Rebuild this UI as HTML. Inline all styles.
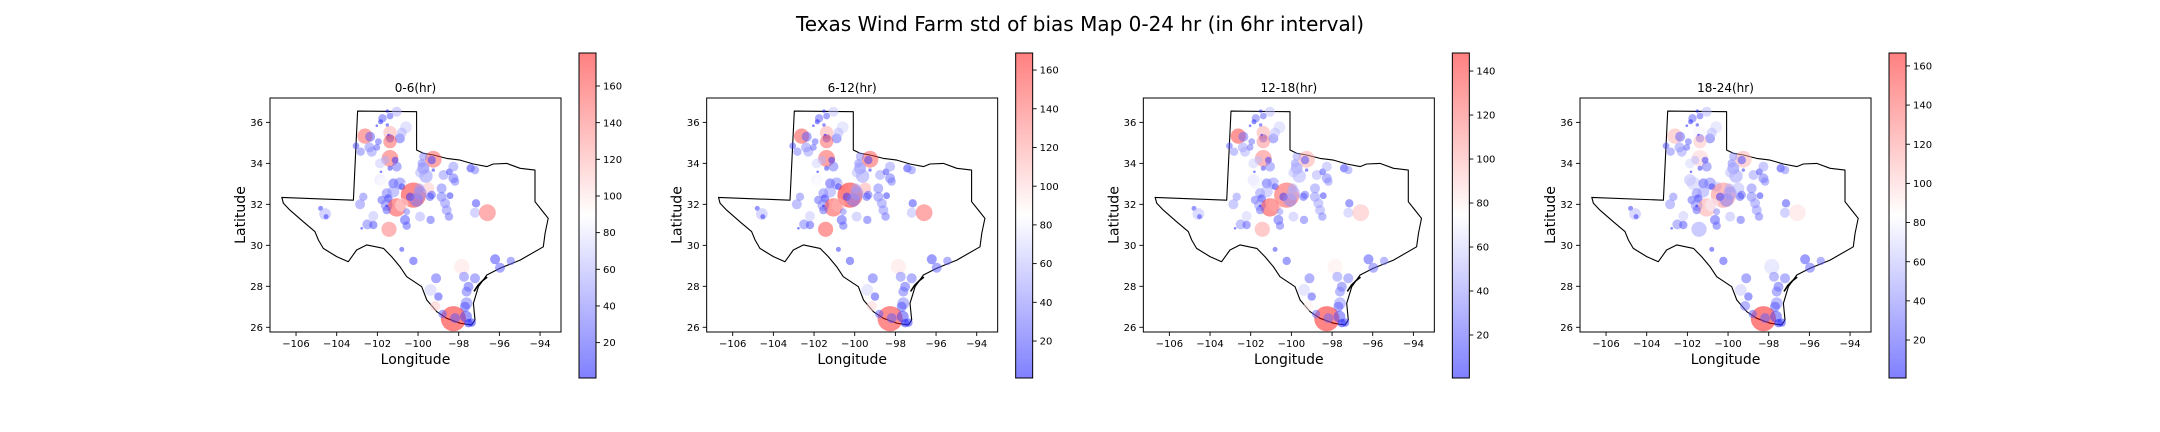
<!DOCTYPE html>
<html><head><meta charset="utf-8"><style>
html,body{margin:0;padding:0;background:#fff}
svg{display:block}
text{font-family:"DejaVu Sans","Liberation Sans",sans-serif;fill:#000}
</style></head><body>
<svg id="fig" width="2160" height="432" viewBox="0 0 2160 432">
<text x="1080" y="31" font-size="20" text-anchor="middle">Texas Wind Farm std of bias Map 0-24 hr (in 6hr interval)</text>
</svg>
<script>
// ---- data ----
const panelTitles = ["0-6(hr)","6-12(hr)","12-18(hr)","18-24(hr)"];
const siteLon = [-101.51,-101.05,-101.38,-101.75,-101.84,-102.03,-101.51,-100.59,-102.61,-102.36,-101.38,-101.38,-101.46,-100.89,-100.8,-101.38,-101.95,-103.05,-102.82,-102.39,-102.28,-102.03,-101.38,-101.13,-101.62,-101.87,-101.05,-101.38,-101.82,-99.25,-99.33,-99.74,-99.82,-99.74,-99.61,-99.25,-98.75,-98.46,-98.26,-98.26,-98.18,-97.41,-97.2,-101.87,-101.70,-101.21,-100.89,-100.56,-100.80,-100.23,-100.39,-100.07,-99.49,-99.33,-99.41,-98.84,-98.84,-98.43,-101.54,-101.46,-101.79,-101.54,-101.05,-100.80,-101.54,-101.54,-102.69,-102.85,-102.2,-100.56,-100.64,-100.56,-99.90,-99.38,-98.67,-98.59,-98.48,-97.15,-97.2,-96.59,-104.79,-104.57,-104.52,-102.49,-102.2,-101.43,-102.77,-100.8,-100.23,-97.85,-99.11,-99.38,-99.0,-99.16,-97.74,-97.2,-97.52,-97.61,-97.61,-97.69,-98.26,-98.18,-98.79,-97.64,-97.52,-97.36,-96.21,-95.97,-95.44,-99.93,-99.90,-101.21,-99.74,-99.90];
const siteLat = [36.55,36.52,36.31,36.2,36.03,35.84,35.87,35.76,35.33,35.30,35.5,35.22,35.38,35.22,35.5,35.06,35.06,34.85,34.57,34.78,34.57,34.78,34.24,34.16,34.16,34.0,33.84,33.76,33.59,34.2,34.16,34.33,34.0,33.76,33.38,33.67,33.43,33.59,33.84,33.27,33.11,33.76,33.67,33.19,33.02,33.02,33.02,32.86,32.86,32.45,32.37,32.21,32.78,32.46,32.37,32.78,32.37,32.42,32.54,32.29,32.21,31.97,31.85,31.97,31.72,31.93,32.37,32.0,31.43,31.64,31.24,30.96,31.4,31.24,32.05,31.72,31.4,32.05,31.59,31.59,31.8,31.53,31.4,31.02,30.99,30.78,30.83,29.8,29.24,28.96,28.39,27.82,27.5,27.04,28.47,28.39,27.98,27.74,27.17,27.0,26.42,26.45,26.65,26.52,26.2,26.23,29.32,28.91,29.24,32.78,32.54,32.62,33.76,33.55];
const siteSize = [4,12,8,10,6,3,4,14,18,12,16,10,3,12,12,16,8,8,10,12,12,8,20,8,10,12,12,6,3,20,10,10,10,14,16,4,12,8,12,12,10,10,10,14,16,12,14,12,8,30,10,16,14,10,10,12,12,8,12,10,10,14,22,16,10,3,10,12,12,8,12,10,12,10,12,12,10,10,12,20,6,14,6,12,10,18,3,6,10,18,12,14,10,12,12,12,12,12,14,12,30,12,10,14,10,10,12,12,10,12,16,14,14,12];
const values1 = [10,60,25,30,10,5,10,70,150,30,120,20,5,30,60,150,30,25,40,45,50,30,150,15,60,70,35,15,5,150,20,45,40,50,50,10,50,20,50,35,40,15,40,80,90,25,40,90,20,170,15,40,110,30,25,40,40,15,40,15,30,40,160,100,30,5,40,45,65,40,25,30,60,30,45,45,35,20,60,145,15,60,15,40,25,140,5,15,20,100,30,70,20,110,40,35,30,35,40,25,175,30,30,20,10,15,20,30,35,55,50,50,55,60];
const values2 = [10,65,25,30,10,5,10,70,150,30,115,20,5,30,60,140,30,25,40,45,50,30,145,15,60,70,35,15,5,145,20,45,40,50,50,10,50,20,50,35,40,15,40,80,85,25,40,95,20,165,15,40,115,30,25,40,40,15,40,15,30,40,150,110,30,5,40,45,65,40,25,30,60,30,45,45,35,20,60,140,15,60,15,40,25,150,5,15,20,95,30,70,20,100,40,35,30,35,40,25,160,30,30,20,10,15,20,30,35,55,50,50,55,60];
const values3 = [10,55,25,30,10,5,10,60,135,30,100,20,5,30,55,110,30,25,40,45,50,30,115,15,55,60,35,15,5,100,20,45,40,50,50,10,50,20,50,35,40,15,40,65,70,25,40,75,20,130,15,40,75,30,25,40,40,15,40,15,30,40,135,100,30,5,40,45,60,40,25,30,55,30,45,45,35,20,55,95,15,55,15,40,25,105,5,15,20,80,30,60,20,80,40,35,30,35,40,25,145,30,30,20,10,15,20,30,35,50,50,50,50,55];
const values4 = [10,60,25,30,10,5,10,70,110,30,80,20,5,30,60,105,30,25,40,45,50,30,100,15,60,70,35,15,5,110,20,45,40,50,50,10,50,20,50,35,40,15,40,60,65,25,40,60,20,125,15,40,60,30,25,40,40,15,40,15,30,40,115,80,30,5,40,45,65,40,25,30,60,30,45,45,35,20,55,95,15,60,15,40,25,50,5,15,20,70,30,65,20,35,40,35,30,35,40,25,165,30,30,20,10,15,20,30,35,55,50,50,55,60];
const cbarMin = [0.7,0.9,0.45,0.6];
const cbarMax = [178,168.8,148.2,166.6];
const cbarTicks = [[20,40,60,80,100,120,140,160],[20,40,60,80,100,120,140,160],[20,40,60,80,100,120,140],[20,40,60,80,100,120,140,160]];
const xTicks = [-106,-104,-102,-100,-98,-96,-94];
const yTicks = [26,28,30,32,34,36];
const txLon = [-102.97,-100.07,-100.07,-99.74,-99.25,-98.59,-97.93,-97.28,-96.62,-96.3,-95.64,-94.98,-94.25,-94.25,-93.92,-93.6,-93.75,-93.84,-94.98,-95.97,-96.62,-97.03,-97.28,-97.2,-97.36,-97.93,-98.59,-99.08,-99.57,-99.82,-100.56,-100.89,-101.3,-101.7,-102.52,-103.02,-103.43,-104.0,-104.66,-104.9,-105.07,-105.64,-106.3,-106.62,-106.7,-103.18];
const txLat = [36.55,36.52,34.65,34.49,34.41,34.24,34.16,33.97,33.84,33.97,34.0,33.76,33.67,32.13,31.72,31.32,30.59,29.93,29.28,28.88,28.55,27.98,27.17,26.36,26.11,26.2,26.44,26.76,27.33,27.98,28.47,28.96,29.45,29.85,30.02,29.77,29.2,29.45,29.85,30.26,30.67,31.15,31.72,32.05,32.34,32.2];
const coastLon = [-97.25,-97.05,-96.8,-96.6];
const coastLat = [27.75,28.05,28.3,28.45];
const allValues = [values1,values2,values3,values4];

// ---- drawing ----
const NS="http://www.w3.org/2000/svg";
const svg=document.getElementById('fig');
function mk(tag,attrs,parent){const e=document.createElementNS(NS,tag);for(const k in attrs)e.setAttribute(k,attrs[k]);(parent||svg).appendChild(e);return e;}
const LON0=-107.28,LON1=-92.97,LAT0=25.77,LAT1=37.19;
const AX_W=291,AX_Y0=98,AX_Y1=332,CB_Y0=53,CB_Y1=378;
const R_SCALE=0.42;
function bwr(t){t=Math.max(0,Math.min(1,t));let r,g,b;if(t<0.5){r=g=t*2;b=1;}else{r=1;g=b=(1-t)*2;}return `rgb(${Math.round(r*255)},${Math.round(g*255)},${Math.round(b*255)})`;}
function fmt(v){return v<0?'\u2212'+Math.abs(v):String(v);}

const defs=mk('defs',{});
for(let p=0;p<4;p++){
  const ox=270+436.67*p;
  const sx=lon=>ox+(lon-LON0)/(LON1-LON0)*AX_W;
  const sy=lat=>AX_Y1-(lat-LAT0)/(LAT1-LAT0)*(AX_Y1-AX_Y0);
  const g=mk('g',{});
  
  
  const cp=mk('clipPath',{id:'clip'+p},defs);
  mk('rect',{x:ox,y:AX_Y0,width:AX_W,height:AX_Y1-AX_Y0},cp);
  const pts=txLon.map((l,i)=>sx(l).toFixed(1)+','+sy(txLat[i]).toFixed(1)).join(' ');
  const poly=mk('polygon',{points:pts,fill:'none',stroke:'#000','stroke-width':1.1,'stroke-linejoin':'round'},g);
  
  
  const cl=mk('polyline',{points:coastLon.map((l,i)=>sx(l).toFixed(1)+','+sy(coastLat[i]).toFixed(1)).join(' '),fill:'none',stroke:'#000','stroke-width':1.6},g);
  
  
  const vals=allValues[p],vmin=cbarMin[p],vmax=cbarMax[p];
  const sg=mk('g',{'clip-path':`url(#clip${p})`},g);
  
  
  const n=Math.min(siteLon.length,siteLat.length,siteSize.length,vals.length);
  for(let i=0;i<n;i++){
    const c=mk('circle',{cx:sx(siteLon[i]).toFixed(1),cy:sy(siteLat[i]).toFixed(1),r:(siteSize[i]*R_SCALE).toFixed(1),fill:bwr((vals[i]-vmin)/(vmax-vmin)),'fill-opacity':0.5},sg);
    
    
  }
  const fr=mk('rect',{x:ox,y:AX_Y0,width:AX_W,height:AX_Y1-AX_Y0,fill:'none',stroke:'#000','stroke-width':1},g);
  
  
  xTicks.forEach(t=>{const x=sx(t);mk('line',{x1:x,x2:x,y1:AX_Y1,y2:AX_Y1+4,stroke:'#000','stroke-width':0.9},g);
    const tx=mk('text',{x:x,y:347,'font-size':10,'text-anchor':'middle'},g);tx.textContent=fmt(t);
    
    });
  yTicks.forEach(t=>{const y=sy(t);mk('line',{x1:ox-4,x2:ox,y1:y,y2:y,stroke:'#000','stroke-width':0.9},g);
    const tx=mk('text',{x:ox-7,y:y+3.6,'font-size':10,'text-anchor':'end'},g);tx.textContent=fmt(t);
    
    });
  const xl=mk('text',{x:ox+AX_W/2,y:364,'font-size':14,'text-anchor':'middle'},g);xl.textContent='Longitude';
  
  
  const yl=mk('text',{x:0,y:0,'font-size':14,'text-anchor':'middle',transform:`translate(${ox-25},${(AX_Y0+AX_Y1)/2}) rotate(-90)`},g);yl.textContent='Latitude';
  
  
  const tt=mk('text',{x:ox+AX_W/2,y:92,'font-size':12,'text-anchor':'middle'},g);tt.textContent=panelTitles[p];
  
  
  const cx=ox+309,cw=17;
  const lg=mk('linearGradient',{id:'grad'+p,x1:0,y1:1,x2:0,y2:0},defs);
  mk('stop',{offset:'0','stop-color':'rgb(128,128,255)'},lg);
  mk('stop',{offset:'0.5','stop-color':'rgb(255,255,255)'},lg);
  mk('stop',{offset:'1','stop-color':'rgb(255,128,128)'},lg);
  const cb=mk('rect',{x:cx,y:CB_Y0,width:cw,height:CB_Y1-CB_Y0,fill:`url(#grad${p})`,stroke:'#000','stroke-width':1},g);
  
  
  cbarTicks[p].forEach(t=>{const y=CB_Y1-(t-vmin)/(vmax-vmin)*(CB_Y1-CB_Y0);
    mk('line',{x1:cx+cw,x2:cx+cw+4,y1:y,y2:y,stroke:'#000','stroke-width':0.9},g);
    const tx=mk('text',{x:cx+cw+7,y:y+3.6,'font-size':10},g);tx.textContent=String(t);
    
    });
}
</script>
</body></html>
